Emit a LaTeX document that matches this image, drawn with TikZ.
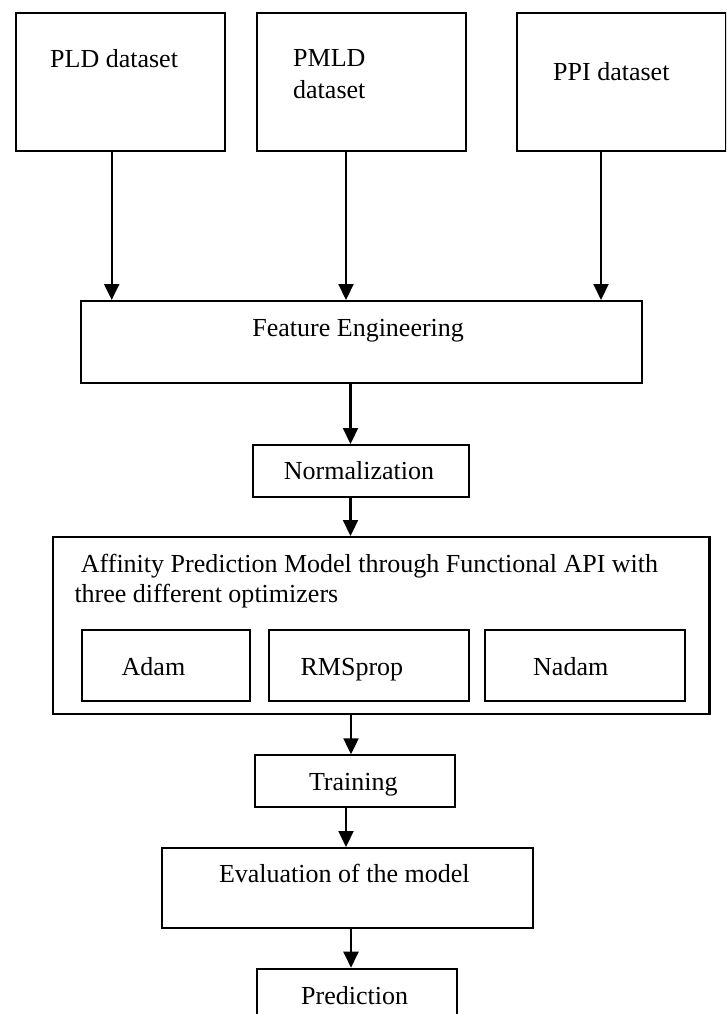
\documentclass[tikz,border=0pt]{standalone}
\usepackage{fontspec}
\setmainfont{Liberation Serif}
\usetikzlibrary{arrows.meta}
\newcommand{\fs}{\fontsize{26}{32}\selectfont}
\begin{document}
\begin{tikzpicture}[x=1pt,y=-1pt,
  box/.style={draw, line width=2.1pt, inner sep=0pt, anchor=north west},
  lbl/.style={anchor=base west, inner sep=0pt, font=\fs},
  arr/.style={line width=2.2pt, -{Triangle[width=15pt,length=16pt]}}]
\useasboundingbox (0,0) rectangle (726,1014);
\clip (0,0) rectangle (726,1014);
% boxes
\node[box, minimum width=209pt, minimum height=138pt] (pld) at (15.3,12.3) {};
\node[box, minimum width=208.5pt, minimum height=138pt] (pmld) at (256,12.3) {};
\node[box, minimum width=208.5pt, minimum height=138pt] (ppi) at (516,12.3) {};
\node[box, minimum width=561pt, minimum height=82.3pt] (feat) at (79.7,300) {};
\node[box, minimum width=216pt, minimum height=51.7pt] (norm) at (251.7,444) {};
\node[box, minimum width=656.7pt, minimum height=177.3pt] (big) at (51.7,536) {};
\node[box, minimum width=167.8pt, minimum height=70.7pt] (adam) at (80.7,629.3) {};
\node[box, minimum width=199.8pt, minimum height=70.7pt] (rms) at (268,629.3) {};
\node[box, minimum width=200.3pt, minimum height=70.7pt] (nadam) at (484,629.3) {};
\node[box, minimum width=200.3pt, minimum height=51.4pt] (train) at (254,754.3) {};
\node[box, minimum width=371pt, minimum height=79.7pt] (eval) at (161.3,847) {};
\node[box, minimum width=199.7pt, minimum height=70pt] (pred) at (256,967.7) {};
% labels
\node[lbl] (tpld) at (50,68) {PLD dataset};
\node[lbl] (tpmld1) at (293,67) {PMLD};
\node[lbl] (tpmld2) at (293,99) {dataset};
\node[lbl] (tppi) at (553,81) {PPI dataset};
\node[lbl] (tfeat) at (252.2,336) {Feature Engineering};
\node[lbl] (tnorm) at (283.7,479.3) {Normalization};
\node[lbl] (taff1) at (80.7,572) {Affinity Prediction Model through Functional API with};
\node[lbl] (taff2) at (74.3,602) {three different optimizers};
\node[lbl] (tadam) at (121.5,675.3) {Adam};
\node[lbl] (trms) at (300.4,675.3) {RMSprop};
\node[lbl] (tnadam) at (533,675.3) {Nadam};
\node[lbl] (ttrain) at (308.8,790.7) {Training};
\node[lbl] (teval) at (218.8,882.7) {Evaluation of the model};
\node[lbl] (tpred) at (301,1004) {Prediction};
% arrows
\draw[arr] (111.7,0 |- pld.south) -- (111.7,0 |- feat.north);
\draw[arr] (346,0 |- pmld.south) -- (346,0 |- feat.north);
\draw[arr] (601,0 |- ppi.south) -- (601,0 |- feat.north);
\draw[arr] (350.5,0 |- feat.south) -- (350.5,0 |- norm.north);
\draw[arr] (350.5,0 |- norm.south) -- (350.5,0 |- big.north);
\draw[arr] (351,0 |- big.south) -- (351,0 |- train.north);
\draw[arr] (346,0 |- train.south) -- (346,0 |- eval.north);
\draw[arr] (351,0 |- eval.south) -- (351,0 |- pred.north);
\end{tikzpicture}
\end{document}
